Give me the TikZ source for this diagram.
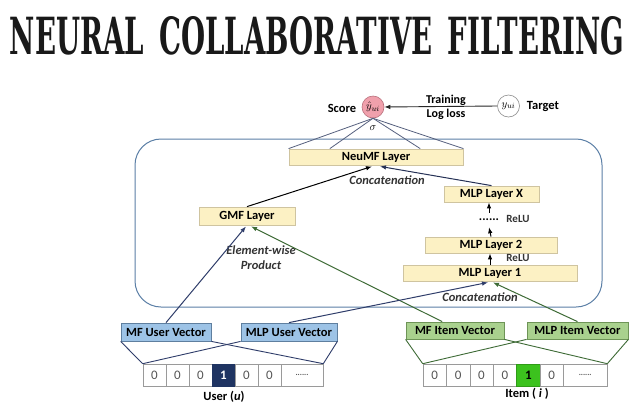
\documentclass[tikz,border=0pt]{standalone}
\usepackage{fontspec}
\setmainfont{Carlito}
\newfontfamily\titlefont{DejaVu Serif}
\usetikzlibrary{arrows.meta,calc}
\definecolor{layerfill}{HTML}{FCF1C4}
\definecolor{layerline}{HTML}{CFC4A0}
\definecolor{ufill}{HTML}{9DC3E6}
\definecolor{uline}{HTML}{5F7F9F}
\definecolor{ifill}{HTML}{A9D18E}
\definecolor{iline}{HTML}{6E9457}
\definecolor{boxline}{HTML}{5B7FA6}
\definecolor{navyline}{HTML}{2F3D6A}
\definecolor{greenline}{HTML}{3E6B36}
\definecolor{fanline}{HTML}{56607E}
\definecolor{scorefill}{HTML}{F0A0AC}
\definecolor{scoreline}{HTML}{B8707C}
\definecolor{navycell}{HTML}{1F3462}
\definecolor{greencell}{HTML}{3CC21E}
\definecolor{cellline}{HTML}{9A9A9A}
\definecolor{digit}{HTML}{555555}
\begin{document}
\begin{tikzpicture}[x=1pt,y=-1pt,
  font=\fontsize{12.5}{14}\selectfont\bfseries,
  layer/.style={draw=layerline, fill=layerfill, line width=0.8pt, inner sep=0pt, minimum height=16pt},
  uvec/.style={draw=uline, fill=ufill, line width=0.8pt, inner sep=0pt, minimum height=18pt},
  ivec/.style={draw=iline, fill=ifill, line width=0.8pt, inner sep=0pt, minimum height=17pt},
  cell/.style={draw=cellline, fill=white, line width=0.6pt, inner sep=0pt, minimum height=22pt,
    font=\fontsize{13}{13}\selectfont\mdseries, text=digit},
  arr/.style={-{Latex[length=6pt,width=4.5pt]}, line width=1pt},
  lbl/.style={inner sep=0pt},
  ilbl/.style={inner sep=0pt, font=\fontsize{12.5}{14}\selectfont\bfseries\itshape, text=black!80}
]
\useasboundingbox (0,0) rectangle (642,413);
\fill[white] (0,0) rectangle (642,413);

% title
\node[inner sep=0pt, text=black!90] (title) at (317,36)
  {\resizebox{614pt}{38pt}{\titlefont\bfseries NEURAL\hspace{0.55em}COLLABORATIVE\hspace{0.55em}FILTERING}};

% container
\draw[boxline, line width=1pt, rounded corners=26pt] (135,139) rectangle (602,307);

% score / target
\node[circle, draw=scoreline, fill=scorefill, line width=0.6pt, inner sep=0pt, minimum size=22pt] (score) at (373,107)
  {\fontsize{11}{11}\selectfont$\hat{y}_{ui}$};
\node[circle, draw=black!45, fill=white, line width=0.6pt, inner sep=0pt, minimum size=22pt] (target) at (508.5,106)
  {\fontsize{11}{11}\selectfont$y_{ui}$};
\node[lbl] (scorelbl) at (342,108) {Score};
\node[lbl] (targetlbl) at (543,107) {Target};
\node[lbl, align=center, font=\fontsize{12}{14}\selectfont\bfseries] (train) at (446,107) {Training\\Log loss};
\node[lbl, font=\fontsize{11}{11}\selectfont] (sigma) at (373,128) {$\sigma$};
\draw[arr, line width=0.9pt, black!85] (target.west) -- (score.east);

% layers
\node[layer, minimum width=174pt] (neumf) at (376,157) {NeuMF Layer};
\node[layer, minimum width=96pt, minimum height=18pt] (gmf) at (247,216) {GMF Layer};
\node[layer, minimum width=95pt] (mlpx) at (491.5,194) {MLP Layer X};
\node[layer, minimum width=132pt] (mlp2) at (491,245) {MLP Layer 2};
\node[layer, minimum width=174pt] (mlp1) at (490,273) {MLP Layer 1};
\node[lbl, minimum height=14pt] (dots) at (489,220) {......};
\node[lbl, font=\fontsize{11}{11}\selectfont\bfseries, text=black!80] (relu1) at (518,219) {ReLU};
\node[lbl, font=\fontsize{11}{11}\selectfont\bfseries, text=black!80] (relu2) at (518,258) {ReLU};
\node[ilbl] (concat1) at (387,180) {Concatenation};
\node[ilbl] (concat2) at (480,297) {Concatenation};
\node[ilbl, align=center, font=\fontsize{12.5}{15}\selectfont\bfseries\itshape] (elem) at (261,258) {Element-wise\\Product};

% fan from score to NeuMF
\foreach \t in {0,0.236,0.753,1}
  \draw[fanline, line width=0.8pt] (score.south) -- ($(neumf.north west)!\t!(neumf.north east)$);

% arrows into NeuMF
\draw[arr, black] (gmf.north) -- ($(neumf.south)+(-4,1)$);
\draw[arr, navyline!80!black] (mlpx.north) -- ($(neumf.south)+(4,1)$);
% MLP tower
\draw[arr, black] (mlp1.north) -- (mlp1.north |- mlp2.south);
\draw[arr, black] (mlp2.north) -- (dots.south);
\draw[arr, black] (dots.north) -- (dots.north |- mlpx.south);

% vectors
\node[uvec, minimum width=90pt] (mfu) at (166,332) {MF User Vector};
\node[uvec, minimum width=96pt] (mlpu) at (289,332) {MLP User Vector};
\node[ivec, minimum width=98pt] (mfi) at (455,330.5) {MF Item Vector};
\node[ivec, minimum width=101pt] (mlpi) at (577.5,330.5) {MLP Item Vector};

% arrows from vectors
\draw[arr, navyline] (mfu.north) -- ($(gmf.south)+(-1,1)$);
\draw[arr, greenline] ($(mfi.north west)!0.37!(mfi.north east)$) -- ($(gmf.south)+(4,1)$);
\draw[arr, navyline] (mlpu.north) -- ($(mlp1.south)+(-2,1)$);
\draw[arr, greenline] (mlpi.north) -- ($(mlp1.south)+(3,1)$);

% user one-hot
\node[cell, minimum width=23pt] (u1) at (154.5,375) {0};
\node[cell, minimum width=23pt] (u2) at (177.5,375) {0};
\node[cell, minimum width=23pt] (u3) at (200.5,375) {0};
\node[cell, minimum width=23pt, fill=navycell, draw=navycell, text=white, font=\fontsize{13}{13}\selectfont\bfseries] (u4) at (223.5,375) {1};
\node[cell, minimum width=23pt] (u5) at (246.5,375) {0};
\node[cell, minimum width=23pt] (u6) at (269.5,375) {0};
\node[cell, minimum width=42pt, font=\fontsize{8}{8}\selectfont\bfseries] (u7) at (302,375) {......};
\node[lbl] (ulbl) at (224,397) {User (\textit{u})};

% item one-hot
\node[cell, minimum width=23.4pt] (i1) at (434.7,375) {0};
\node[cell, minimum width=23.4pt] (i2) at (458.1,375) {0};
\node[cell, minimum width=23.4pt] (i3) at (481.5,375) {0};
\node[cell, minimum width=23.4pt] (i4) at (504.9,375) {0};
\node[cell, minimum width=23.4pt, fill=greencell, draw=greencell!80!black, text=black, font=\fontsize{13}{13}\selectfont\bfseries] (i5) at (528.3,375) {1};
\node[cell, minimum width=23.4pt] (i6) at (551.7,375) {0};
\node[cell, minimum width=43.6pt, font=\fontsize{8}{8}\selectfont\bfseries] (i7) at (585.2,375) {......};
\node[lbl] (ilbl) at (527,394) {Item ( \textit{i} )};

% fans to one-hot vectors
\draw[navyline, line width=0.9pt] (mfu.south west) -- (u1.north west);
\draw[navyline, line width=0.9pt] (mfu.south east) -- (u7.north east);
\draw[navyline, line width=0.9pt] (mlpu.south west) -- (u1.north west);
\draw[navyline, line width=0.9pt] (mlpu.south east) -- (u7.north east);
\draw[greenline, line width=0.9pt] (mfi.south west) -- (i1.north west);
\draw[greenline, line width=0.9pt] (mfi.south east) -- (i7.north east);
\draw[greenline, line width=0.9pt] (mlpi.south west) -- (i1.north west);
\draw[greenline, line width=0.9pt] (mlpi.south east) -- (i7.north east);
\end{tikzpicture}
\end{document}
